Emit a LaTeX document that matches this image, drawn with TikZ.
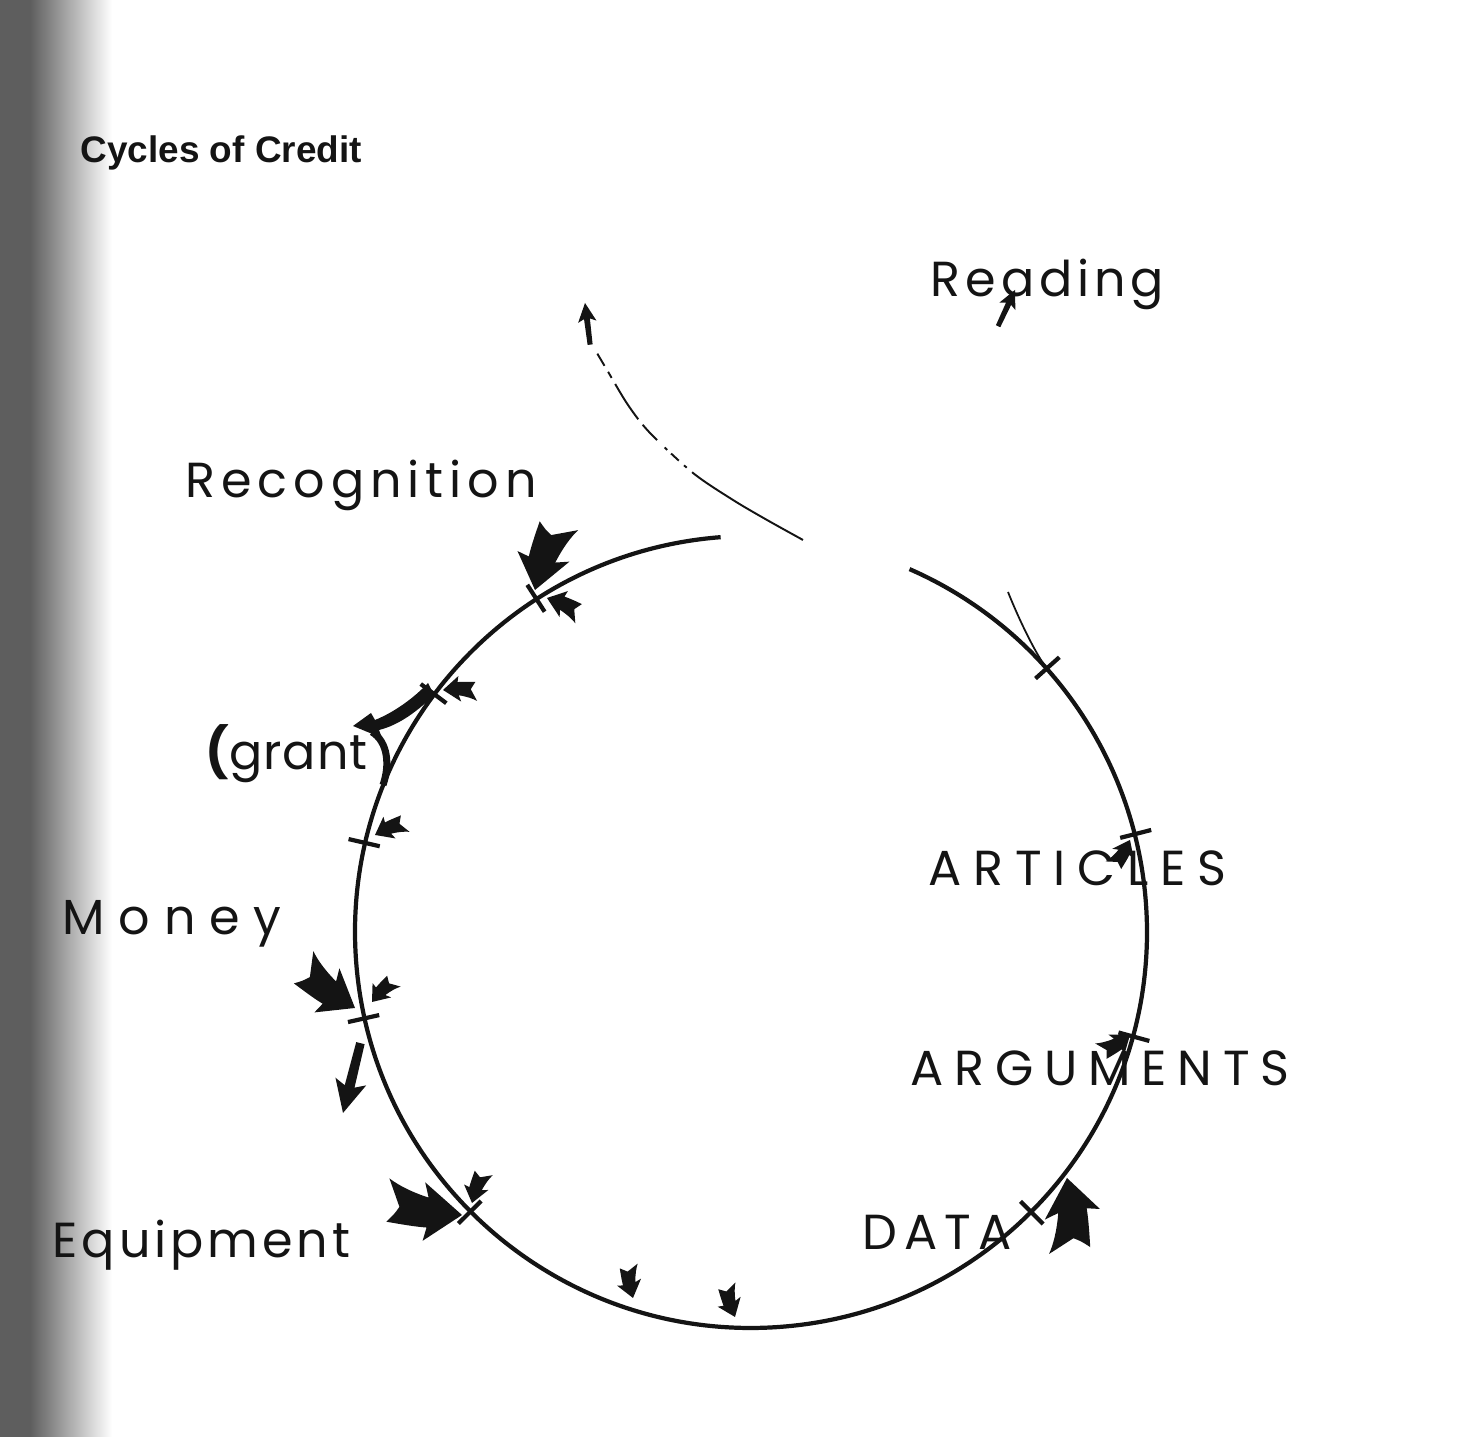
\documentclass[tikz,border=0pt]{standalone}
\usepackage{fontspec}
\setmainfont{Poppins}
\newfontfamily\titlefont{Liberation Sans}
\newfontfamily\labfont[LetterSpace=10]{Poppins}
\definecolor{Ink}{HTML}{141414}
\definecolor{ScanEdge}{HTML}{5E5E5E}
\tikzset{
  lbl/.style={anchor=base west,inner sep=0,text=Ink},
  featharrow/.pic={
    \fill[Ink] (0,0) -- (-0.52,0.4) -- (-0.46,0.2)
      .. controls (-0.7,0.26) and (-0.88,0.34) .. (-1,0.42) -- (-0.84,0.05)
      .. controls (-0.9,-0.05) .. (-1,-0.16)
      .. controls (-0.8,-0.18) and (-0.62,-0.2) .. (-0.46,-0.2) -- (-0.5,-0.38) -- cycle;
  },
  thinarrow/.pic={
    \fill[Ink] (0,0) -- (-0.45,0.22) -- (-0.38,0.07) -- (-1,0.06) -- (-1,-0.06)
      -- (-0.38,-0.07) -- (-0.45,-0.22) -- cycle;
  }
}

\begin{document}
\begin{tikzpicture}[x=0.01cm,y=0.01cm,font=\labfont\fontsize{14}{16}\selectfont]
\path[use as bounding box] (0,0) rectangle (1469,1437);
% scanned page edge
\fill[ScanEdge] (0,0) rectangle (30,1437);
\shade[left color=ScanEdge,right color=white] (30,0) rectangle (112,1437);

\coordinate (c) at (751,505);

% the cycle
\draw[Ink,line width=1.2pt] (c) ++(94.4:396) arc[start angle=94.4,end angle=426.4,radius=396];
\foreach \a in {122.8,143.1,167,192.6,224.9,315,344.7,14.3,41.7}
  \draw[Ink,line width=1.2pt] (c) ++(\a:381) -- ++(\a:32);

% spiral leaving the cycle
\draw[Ink,line width=0.55pt,dash pattern=on 37pt off 2pt on 1pt off 2pt on 3pt off 1.5pt on 1pt off 3pt on 6pt off 2pt on 12pt off 2pt on 2pt off 2pt on 4pt]
  plot[smooth] coordinates {(803,897) (767,917) (733,937) (693,964) (650,1004) (628,1032) (607,1067) (591,1094)};
\pic[rotate=97,scale=42] at (585,1134) {thinarrow};
\draw[Ink,line width=0.5pt] (1008,845) .. controls (1020,815) and (1035,785) .. (1045,771);

% flows into and out of the cycle
\foreach \x/\y/\a/\s in {535/847/-103/68, 547/839/161/35, 443/747/185/33, 375/602/208/32,
    355/429/-31/65, 372/435/-129/30, 462/222/-4/75, 472/234/-104/32,
    633/139/-75/32, 735/120/-68/32, 1067/259/99.5/72, 1130/402/36.5/33, 1130/597/64/30}
  \pic[rotate=\a,scale=\s] at (\x,\y) {featharrow};
\pic[rotate=65,scale=40] at (1015,1147) {thinarrow};
\pic[rotate=-104,scale=72] at (343,324) {thinarrow};

% grant branch
\fill[Ink] (353,711) -- (371,724) -- (375,717) .. controls (395,725) and (415,740) .. (428,754)
  -- (434,742) .. controls (420,728) and (400,712) .. (379,707) -- (382,699) -- cycle;
\draw[Ink,line width=2pt] (372,705) .. controls (388,695) and (390,672) .. (383,652);

% labels
\node[lbl,font=\titlefont\bfseries\fontsize{10.5}{12}\selectfont] (title) at (80,1274) {Cycles of Credit};
\node[lbl] (reading) at (930,1140) {Reading};
\node[lbl] (recog) at (185,939) {\addfontfeature{LetterSpace=12}Recognition};
\node[lbl] (grant) at (205,667) {\addfontfeature{LetterSpace=2}{\bfseries(}grant};
\node[lbl] (money) at (62,502) {\addfontfeature{LetterSpace=28}Money};
\node[lbl] (equip) at (52,179) {\addfontfeature{LetterSpace=8}Equipment};
\node[lbl] (articles) at (928,551) {\addfontfeature{LetterSpace=24}ARTICLES};
\node[lbl] (args) at (910,351) {\addfontfeature{LetterSpace=22}ARGUMENTS};
\node[lbl] (data) at (862,187) {\addfontfeature{LetterSpace=14}DATA};
\end{tikzpicture}
\end{document}
